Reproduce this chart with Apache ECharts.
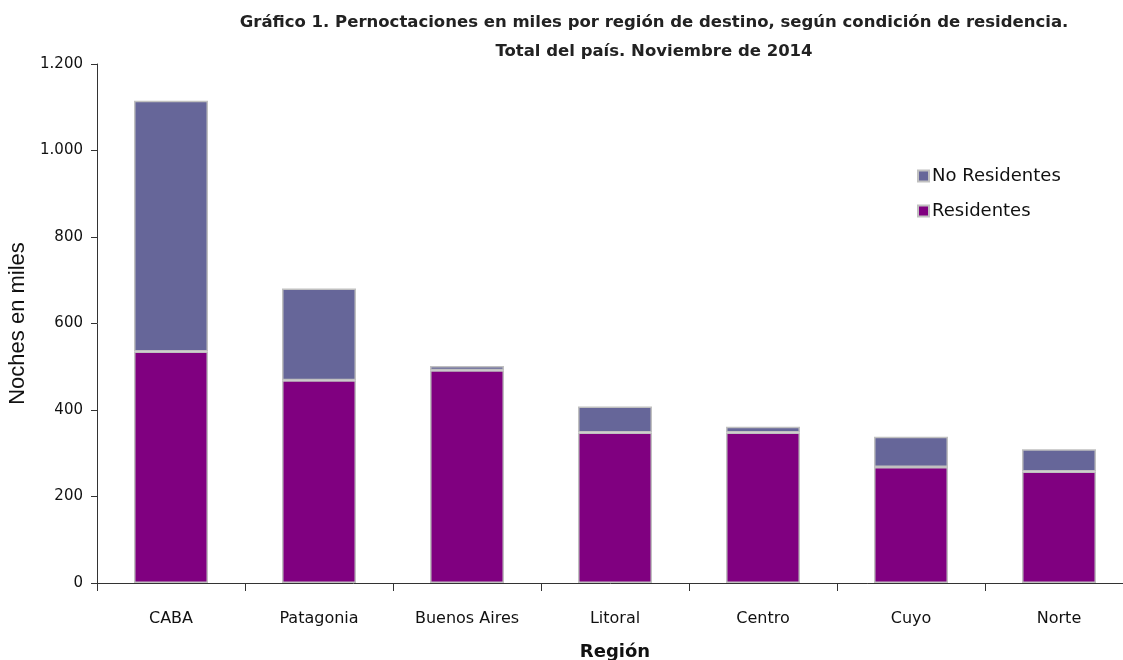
<!DOCTYPE html>
<html><head><meta charset="utf-8">
<script src="https://cdn.jsdelivr.net/npm/echarts@6/dist/echarts.min.js"></script>
<style>html,body{margin:0;padding:0;background:#fff;overflow:hidden}#c{width:1123px;height:660px}</style>
</head><body><div id="c"></div>
<script>
const categories = ['CABA','Patagonia','Buenos Aires','Litoral','Centro','Cuyo','Norte'];
const residentes = [535, 469, 492, 348, 348, 268, 258];
const noResidentes = [580, 212, 10, 60, 13, 70, 51];
const yTicks = [0, 200, 400, 600, 800, 1000, 1200];

const chart = echarts.init(document.getElementById('c'));
const fmt = v => String(v).replace(/\B(?=(\d{3})+(?!\d))/g, '.');
chart.setOption({
  animation: false,
  backgroundColor: '#fff',
  title: {
    text: 'Gráfico 1. Pernoctaciones en miles por región de destino, según condición de residencia.\nTotal del país. Noviembre de 2014',
    left: 649, top: 3, textAlign: 'center',
    textStyle: {fontFamily: 'DejaVu Sans', fontSize: 16.5, fontWeight: 'bold', color: '#222', lineHeight: 29}
  },
  legend: {
    orient: 'vertical', left: 912, top: 162, itemGap: 17,
    itemWidth: 11, itemHeight: 11, icon: 'rect',
    textStyle: {fontFamily: 'DejaVu Sans', fontSize: 18, color: '#111', padding: [0,0,0,-2]},
    data: ['No Residentes', 'Residentes']
  },
  grid: {left: 97, top: 64, width: 1036, height: 519, containLabel: false, outerBoundsMode: 'none'},
  xAxis: {
    type: 'category', data: categories,
    name: 'Región', nameLocation: 'middle', nameGap: 60,
    nameTextStyle: {fontFamily: 'DejaVu Sans', fontSize: 18, fontWeight: 'bold', color: '#111'},
    axisLine: {lineStyle: {color: '#333', width: 1}},
    axisTick: {show: true, alignWithLabel: false, length: 8, lineStyle: {color: '#333'}},
    axisLabel: {fontFamily: 'DejaVu Sans', fontSize: 16, color: '#111', margin: 28}
  },
  yAxis: {
    type: 'value', min: 0, max: 1200, interval: 200,
    name: 'Noches en miles', nameLocation: 'middle', nameGap: 64, nameRotate: 90,
    nameTextStyle: {fontFamily: 'Liberation Sans', fontSize: 22, color: '#111'},
    axisLine: {show: true, lineStyle: {color: '#333', width: 1}},
    axisTick: {show: true, length: 6, lineStyle: {color: '#333'}},
    splitLine: {show: false},
    axisLabel: {fontFamily: 'DejaVu Sans', fontSize: 15, color: '#111', margin: 14,
      formatter: v => yTicks.includes(v) ? fmt(v) : ''}
  },
  series: [
    {name: 'Residentes', type: 'bar', stack: 't', barWidth: '50%', data: residentes,
     itemStyle: {color: '#800080', borderColor: '#c0c0c0', borderWidth: 1.5}},
    {name: 'No Residentes', type: 'bar', stack: 't', barWidth: '50%', data: noResidentes,
     itemStyle: {color: '#666699', borderColor: '#c0c0c0', borderWidth: 1.5}}
  ]
});
</script></body></html>
